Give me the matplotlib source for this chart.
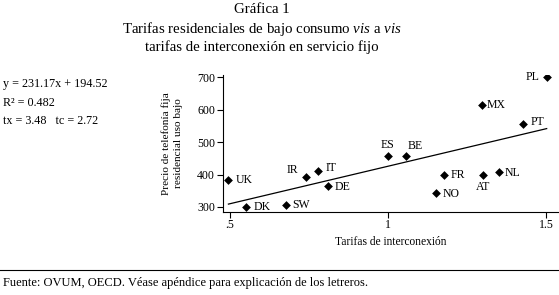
import matplotlib
matplotlib.use("Agg")
import matplotlib.pyplot as plt
from matplotlib.lines import Line2D

countries = ["UK", "DK", "SW", "IR", "IT", "DE", "ES", "BE", "FR", "NO", "MX", "AT", "NL", "PT", "PL"]
interconexion = [0.495, 0.551, 0.677, 0.739, 0.777, 0.809, 1.000, 1.056, 1.177, 1.151, 1.296, 1.299, 1.351, 1.428, 1.502]
precio = [383, 300, 305, 394, 410, 364, 456, 457, 398, 342, 613, 398, 407, 555, 700]
slope, intercept = 231.17, 194.52
xticks = [0.5, 1.0, 1.5]
xticklabels = [".5", "1", "1.5"]
yticks = [300, 400, 500, 600, 700]

# label placement (pixel offsets, alignment)
label_pos = {
    "UK": (7, 0, "left"), "DK": (7, 0, "left"), "SW": (6, 0, "left"),
    "IR": (-7, 7, "right"), "IT": (8, 3, "left"), "DE": (7, -1, "left"),
    "ES": (-1, 11, "center"), "BE": (2, 10, "left"), "FR": (7, 0, "left"),
    "NO": (7, -1, "left"), "MX": (5, 0, "left"), "AT": (1, -12, "center"),
    "NL": (6, -1, "left"), "PT": (7, 2, "left"), "PL": (-7, 0, "right"),
}

plt.rcParams["font.family"] = ["Liberation Serif", "DejaVu Serif"]
plt.rcParams["mathtext.fontset"] = "custom"
plt.rcParams["mathtext.rm"] = "Liberation Serif"
plt.rcParams["mathtext.it"] = "Liberation Serif:italic"

fig = plt.figure(figsize=(5.59, 2.95), dpi=100)
ax = fig.add_axes([222.7 / 559, (295 - 211.7) / 295, (559 - 222.7) / 559, (211.7 - 75) / 295])

ax.scatter(interconexion, precio, marker="D", s=20, color="black", zorder=3, linewidths=0)
xmin, xmax = min(interconexion), max(interconexion)
ax.plot([xmin, xmax], [slope * xmin + intercept, slope * xmax + intercept], color="black", lw=0.9)

for c, x, y in zip(countries, interconexion, precio):
    dx, dy, ha = label_pos[c]
    ax.annotate(c, (x, y), xytext=(dx, dy), textcoords="offset pixels",
                ha=ha, va="center", fontsize=8.5)

ax.set_xlim(0.4769, 1.541)
ax.set_ylim(285.5, 707)
ax.set_xticks(xticks)
ax.set_xticklabels(xticklabels)
ax.set_yticks(yticks)
ax.tick_params(labelsize=8.6, length=4, width=0.8, pad=1.5)
for s in ["top", "right"]:
    ax.spines[s].set_visible(False)
for s in ["left", "bottom"]:
    ax.spines[s].set_linewidth(0.8)
ax.set_xlabel("Tarifas de interconexión", fontsize=8.3, labelpad=3)
ax.set_ylabel("Precio de telefonía fija\nresidencial uso bajo", fontsize=8.1, labelpad=10, linespacing=1.5)

title_fs = 10.7
fig.text(262 / 559, 1 - 9.5 / 295, "Gráfica 1", ha="center", va="center", fontsize=title_fs)
fig.text(262 / 559, 1 - 29 / 295,
         r"Tarifas residenciales de bajo consumo $\mathit{vis}$ a $\mathit{vis}$",
         ha="center", va="center", fontsize=title_fs)
fig.text(262 / 559, 1 - 47 / 295, "tarifas de interconexión en servicio fijo",
         ha="center", va="center", fontsize=title_fs)

fig.text(3 / 559, 1 - 84 / 295, "y = 231.17x + 194.52", ha="left", va="center", fontsize=8.7)
fig.text(3 / 559, 1 - 102.5 / 295, "R² = 0.482", ha="left", va="center", fontsize=8.7)
fig.text(3 / 559, 1 - 121 / 295, "tx = 3.48   tc = 2.72", ha="left", va="center", fontsize=8.7)

fig.add_artist(Line2D([0, 1], [1 - 270 / 295, 1 - 270 / 295], color="black", lw=0.8, transform=fig.transFigure))
fig.text(3 / 559, 1 - 283 / 295, "Fuente: OVUM, OECD. Véase apéndice para explicación de los letreros.",
         ha="left", va="center", fontsize=9)

fig.savefig("out.png", dpi=100)
